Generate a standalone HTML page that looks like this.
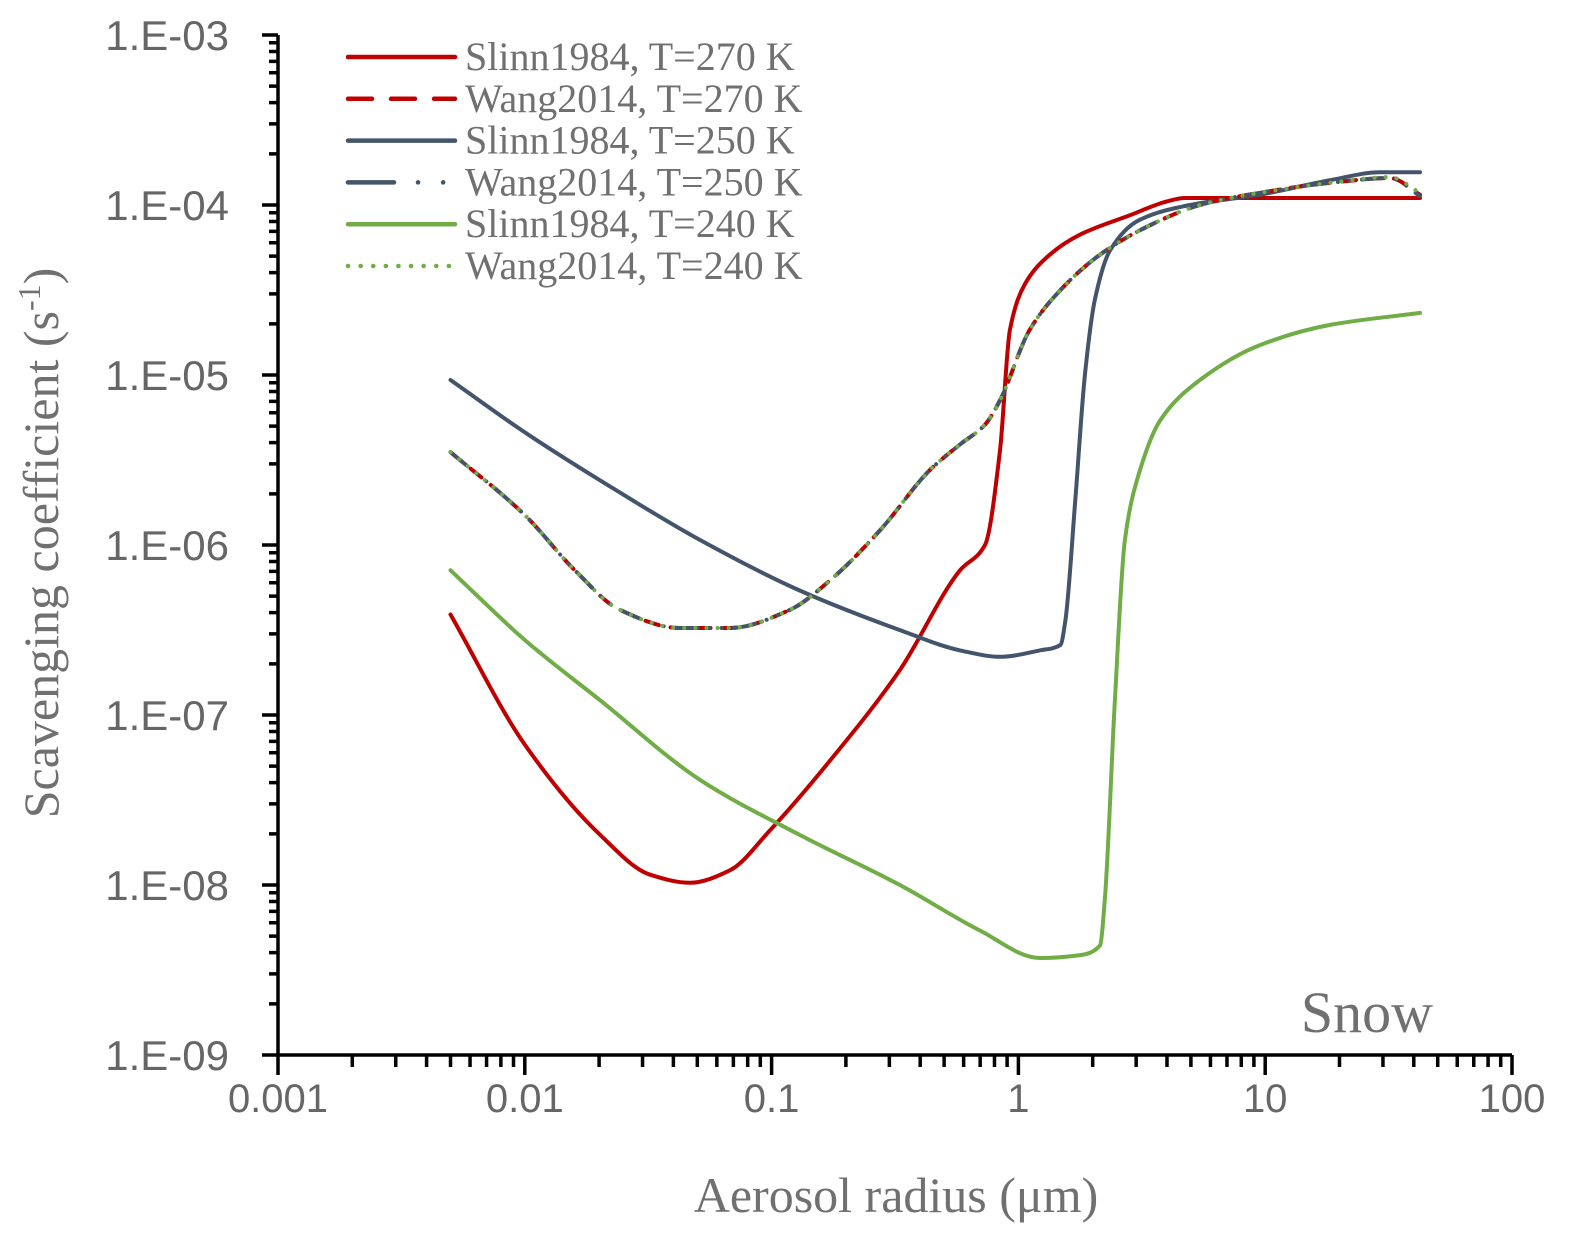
<!DOCTYPE html>
<html><head><meta charset="utf-8">
<style>
html,body{margin:0;padding:0;background:#fff;}
svg{display:block;}
.tick{font-family:"Liberation Sans",sans-serif;fill:#666;}
.serif{font-family:"Liberation Serif",serif;fill:#707070;}
</style></head>
<body>
<svg id="chart" width="1570" height="1240">
<g id="axes"></g>
<g id="series"></g>
<g id="legend"></g>
<text class="serif" x="1433" y="1032" font-size="58" text-anchor="end">Snow</text>
<text class="serif" x="896" y="1212" font-size="50" text-anchor="middle">Aerosol radius (μm)</text>
<text class="serif" transform="translate(58,543) rotate(-90)" font-size="50" text-anchor="middle">Scavenging coefficient (s<tspan baseline-shift="super" font-size="32">-1</tspan>)</text>
</svg>
<script>
const xTickLabels=["0.001","0.01","0.1","1","10","100"];
const yTickLabels=["1.E-03","1.E-04","1.E-05","1.E-06","1.E-07","1.E-08","1.E-09"];
const slinn270X=[0.005,0.01,0.0202,0.0322,0.0467,0.0678,0.0986,0.1726,0.331,0.58,0.732,0.842,0.924,1.06,1.34,1.78,2.83,4.0,4.73,42.4];
const slinn270Y=[3.9e-7,6.7e-8,1.97e-8,1.15e-8,1.03e-8,1.22e-8,2.1e-8,5.4e-8,1.84e-7,7.1e-7,1.0e-6,3.6e-6,1.84e-5,3.4e-5,5.1e-5,6.7e-5,8.7e-5,1.05e-4,1.1e-4,1.1e-4];
const wangX=[0.005,0.01,0.01596,0.0243,0.0426,0.0678,0.1185,0.1726,0.275,0.438,0.58,0.732,0.842,1.11,1.48,2.14,3.41,5.44,9.53,18.3,32.1,42.4];
const wang270Y=[3.52e-6,1.5e-6,7.1e-7,4.15e-7,3.25e-7,3.25e-7,4.15e-7,6.2e-7,1.22e-6,2.76e-6,3.9e-6,5.1e-6,7.1e-6,1.84e-5,3.16e-5,5.1e-5,7.6e-5,1.0e-4,1.18e-4,1.35e-4,1.44e-4,1.15e-4];
const wang250Y=[3.52e-6,1.5e-6,7.1e-7,4.15e-7,3.25e-7,3.25e-7,4.15e-7,6.2e-7,1.22e-6,2.76e-6,3.9e-6,5.1e-6,7.1e-6,1.84e-5,3.16e-5,5.1e-5,7.6e-5,1.0e-4,1.18e-4,1.35e-4,1.44e-4,1.13e-4];
const wang240Y=[3.52e-6,1.5e-6,7.1e-7,4.15e-7,3.25e-7,3.25e-7,4.15e-7,6.2e-7,1.22e-6,2.76e-6,3.9e-6,5.1e-6,7.1e-6,1.84e-5,3.16e-5,5.1e-5,7.6e-5,1.0e-4,1.18e-4,1.35e-4,1.46e-4,1.18e-4];
const slinn250X=[0.005,0.01,0.0202,0.0513,0.13,0.331,0.58,0.842,1.22,1.48,1.55,1.70,1.86,2.04,2.35,3.11,4.96,9.53,18.3,29.2,42.4];
const slinn250Y=[9.35e-6,4.6e-6,2.4e-6,1.07e-6,5.4e-7,3.16e-7,2.4e-7,2.2e-7,2.4e-7,2.58e-7,3.6e-7,1.84e-6,1.0e-5,2.76e-5,5.4e-5,8.2e-5,1.0e-4,1.15e-4,1.4e-4,1.56e-4,1.56e-4];
const slinn240X=[0.005,0.01,0.0202,0.0513,0.13,0.331,0.698,1.22,1.78,2.14,2.24,2.46,2.70,3.11,3.75,5.44,9.53,18.3,42.4];
const slinn240Y=[7.1e-7,2.76e-7,1.22e-7,4.15e-8,1.97e-8,1.0e-8,5.4e-9,3.72e-9,3.87e-9,4.4e-9,8.2e-9,1.22e-7,1.07e-6,2.76e-6,5.4e-6,9.35e-6,1.5e-5,1.97e-5,2.32e-5];

const X0=278,X1=1512,Y0=35,Y1=1055;
const xs=v=>X0+(Math.log10(v)+3)/5*(X1-X0);
const ys=v=>Y0+(-3-Math.log10(v))/6*(Y1-Y0);
const NS="http://www.w3.org/2000/svg";
function mk(tag,attrs,parent){const e=document.createElementNS(NS,tag);for(const k in attrs)e.setAttribute(k,attrs[k]);parent.appendChild(e);return e;}
const axes=document.getElementById('axes');
let d="M"+X0+" "+Y0+" V"+Y1+" H"+X1;
for(let i=0;i<xTickLabels.length;i++){
  const x=xs(Math.pow(10,i-3));
  d+=" M"+x+" "+Y1+" V"+(Y1+20);
  if(i<5) for(let m=2;m<10;m++){const xm=xs(m*Math.pow(10,i-3));d+=" M"+xm+" "+Y1+" V"+(Y1+12);}
  const t=mk('text',{x:x,y:1112,'text-anchor':'middle',class:'tick','font-size':40},axes);
  
  
  t.textContent=xTickLabels[i];
}
for(let i=0;i<yTickLabels.length;i++){
  const v=Math.pow(10,-3-i);const y=ys(v);
  d+=" M"+(X0-16)+" "+y+" H"+X0;
  if(i<6) for(let m=2;m<10;m++){const ym=ys(m*Math.pow(10,-4-i));d+=" M"+(X0-9)+" "+ym+" H"+X0;}
  const t=mk('text',{x:229,y:y+15,'text-anchor':'end',class:'tick','font-size':42},axes);
  
  
  t.textContent=yTickLabels[i];
}
const ax=mk('path',{d:d,stroke:'#000',fill:'none','stroke-width':3.5},axes);



// monotone cubic (Fritsch-Carlson) in pixel space
function pathFor(X,Y){
  const px=X.map(xs),py=Y.map(ys),n=px.length;
  const dx=[],sl=[];
  for(let i=0;i<n-1;i++){dx.push(px[i+1]-px[i]);sl.push((py[i+1]-py[i])/dx[i]);}
  const m=new Array(n);
  m[0]=sl[0];m[n-1]=sl[n-2];
  for(let i=1;i<n-1;i++){
    if(sl[i-1]*sl[i]<=0)m[i]=0;
    else{const w1=2*dx[i]+dx[i-1],w2=dx[i]+2*dx[i-1];m[i]=(w1+w2)/(w1/sl[i-1]+w2/sl[i]);}
  }
  let s="M"+px[0].toFixed(1)+" "+py[0].toFixed(1);
  for(let i=0;i<n-1;i++){
    const h=dx[i]/3;
    s+=" C"+(px[i]+h).toFixed(1)+" "+(py[i]+m[i]*h).toFixed(1)+" "+(px[i+1]-h).toFixed(1)+" "+(py[i+1]-m[i+1]*h).toFixed(1)+" "+px[i+1].toFixed(1)+" "+py[i+1].toFixed(1);
  }
  return s;
}
const series=document.getElementById('series');
const RED="#c00000",NAVY="#44546a",GREEN="#70ad47";
const defs=[
 [slinn270X,slinn270Y,RED,null,'slinn1984-270k-line'],
 [slinn250X,slinn250Y,NAVY,null,'slinn1984-250k-line'],
 [slinn240X,slinn240Y,GREEN,null,'slinn1984-240k-line'],
 [wangX,wang270Y,RED,'14 12','wang2014-270k-line'],
 [wangX,wang250Y,NAVY,'22 12 0.1 12 0.1 12','wang2014-250k-line'],
 [wangX,wang240Y,GREEN,'0.1 11','wang2014-240k-line']
];
defs.forEach(s=>{
  const a={d:pathFor(s[0],s[1]),stroke:s[2],fill:'none','stroke-width':4,'stroke-linecap':'round','stroke-linejoin':'round'};
  if(s[3])a['stroke-dasharray']=s[3];
  const e=mk('path',a,series);
  
  
});
const legend=document.getElementById('legend');
const names=["Slinn1984, T=270 K","Wang2014, T=270 K","Slinn1984, T=250 K","Wang2014, T=250 K","Slinn1984, T=240 K","Wang2014, T=240 K"];
const order=[0,3,1,4,2,5];
order.forEach((k,i)=>{
  const y=57+i*41.8;const s=defs[k];
  const g=mk('g',{},legend);
  
  
  const a={x1:348,x2:455,y1:y,y2:y,stroke:s[2],'stroke-width':4.5,'stroke-linecap':'round'};
  if(k===3)a['stroke-dasharray']='24 19';
  if(k===4)a['stroke-dasharray']='46 24 0.1 25 0.1 40';
  if(k===5)a['stroke-dasharray']='0.1 12.5';
  mk('line',a,g);
  const t=mk('text',{x:465,y:y+13,class:'serif','font-size':40},g);
  t.textContent=names[i];
});
</script>
</body></html>
